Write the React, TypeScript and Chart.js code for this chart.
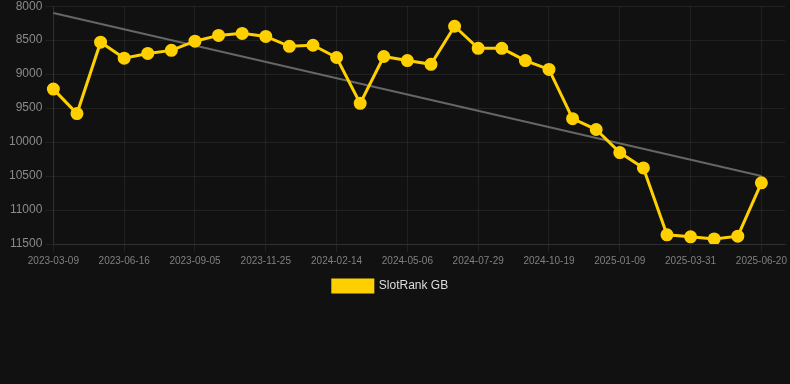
import React, { useEffect, useRef } from "react";
import { Chart, registerables } from "chart.js";

Chart.register(...registerables);

const dateLabels: string[] = [
  "2023-03-09", "2023-04-12", "2023-05-14", "2023-06-16", "2023-07-13", "2023-08-09",
  "2023-09-05", "2023-10-02", "2023-10-29", "2023-11-25", "2023-12-22", "2024-01-18",
  "2024-02-14", "2024-03-12", "2024-04-09", "2024-05-06", "2024-06-02", "2024-07-01",
  "2024-07-29", "2024-08-25", "2024-09-22", "2024-10-19", "2024-11-15", "2024-12-13",
  "2025-01-09", "2025-02-05", "2025-03-04", "2025-03-31", "2025-04-27", "2025-05-24",
  "2025-06-20", "2025-07-17",
];

const rankValues: (number | null)[] = [
  9220, 9580, 8530, 8765, 8695, 8650, 8515, 8430, 8400, 8445, 8590, 8575,
  8755, 9430, 8740, 8800, 8855, 8295, 8620, 8620, 8800, 8930, 9655, 9815,
  10155, 10380, 11365, 11395, 11425, 11385, 10600, null,
];

const trendValues: (number | null)[] = [
  8100, null, null, null, null, null, null, null, null, null, null, null,
  null, null, null, null, null, null, null, null, null, null, null, null,
  null, null, null, null, null, null, 10500, null,
];

const yTicks: number[] = [8000, 8500, 9000, 9500, 10000, 10500, 11000, 11500];

const legendShift = {
  id: "legendShift",
  afterLayout(chart: any) {
    const lg = chart.legend;
    if (lg) {
      lg.left -= 9;
      lg.right -= 9;
    }
  },
};

export default function App() {
  const ref = useRef<HTMLCanvasElement | null>(null);

  useEffect(() => {
    if (!ref.current) return;
    const gridColor = "rgba(255,255,255,0.07)";
    const fam = "Arial, 'Liberation Sans', sans-serif";
    const chart = new Chart(ref.current, {
      type: "line",
      data: {
        labels: dateLabels,
        datasets: [
          {
            label: "SlotRank GB",
            data: rankValues,
            borderColor: "#FFD000",
            backgroundColor: "#FFD000",
            borderWidth: 3,
            pointRadius: 5,
            pointHoverRadius: 5,
            pointBackgroundColor: "#FFD000",
            pointBorderColor: "#FFD000",
            tension: 0,
          },
          {
            label: "Trend",
            data: trendValues,
            borderColor: "#666666",
            backgroundColor: "#666666",
            borderWidth: 2,
            pointRadius: 0,
            spanGaps: true,
            tension: 0,
          },
        ],
      },
      plugins: [legendShift],
      options: {
        animation: false,
        responsive: true,
        maintainAspectRatio: false,
        layout: { padding: { left: 6, right: 0, top: 0, bottom: 0 } },
        plugins: {
          legend: {
            position: "bottom",
            labels: {
              color: "#dddddd",
              font: { size: 12, family: fam },
              boxWidth: 40,
              boxHeight: 12,
              filter: (item: any) => item.datasetIndex === 0,
            },
          },
          tooltip: { enabled: false },
        },
        scales: {
          x: {
            type: "category",
            offset: false,
            grid: { color: gridColor, drawTicks: true },
            border: { color: gridColor },
            ticks: {
              autoSkip: false,
              maxRotation: 0,
              color: "#808080",
              font: { size: 10, family: fam },
              callback: (_v: any, i: number) =>
                i % 3 === 0 && i <= 30 ? dateLabels[i] : null,
            },
          },
          y: {
            reverse: true,
            min: 8000,
            max: 11500,
            afterBuildTicks: (axis: any) => {
              axis.ticks = yTicks.map((v) => ({ value: v }));
            },
            grid: { color: gridColor },
            border: { color: gridColor },
            ticks: {
              color: "#8a8a8a",
              font: { size: 12, family: fam },
              callback: (v: any) => String(v),
            },
          },
        },
      },
    });
    return () => chart.destroy();
  }, []);

  return (
    <div
      style={{
        position: "fixed",
        left: 0,
        top: 0,
        width: 790,
        height: 384,
        background: "#111111",
        overflow: "hidden",
      }}
    >
      <div style={{ position: "absolute", left: 0, top: -4, width: 793, height: 306 }}>
        <canvas ref={ref} />
      </div>
    </div>
  );
}
